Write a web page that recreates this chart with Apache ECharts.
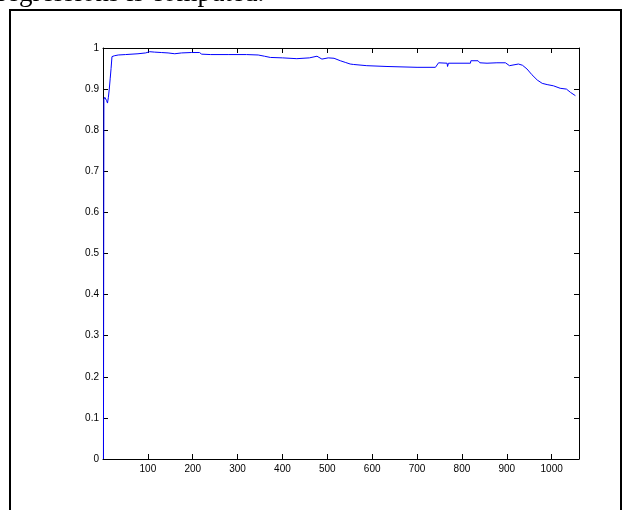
<!DOCTYPE html>
<html lang="en">
<head>
    <meta charset="UTF-8">
    <title>regression curve</title>
    <script src="https://cdn.jsdelivr.net/npm/echarts@6/dist/echarts.min.js"></script>
    <style>
        html, body { margin: 0; padding: 0; background: #fff; }
    </style>
</head>
<body>
<div id="chart" style="width: 626px; height: 510px"></div>
<script>
    // sample index and value
    var xs = [1, 2, 4, 6, 8, 10, 12, 14, 16, 18, 20, 25, 34, 50, 78, 95, 104, 115, 130, 145,
        160, 175, 197, 215, 220, 223, 240, 279, 320, 346, 360, 373, 400, 432, 460, 477, 488, 502,
        515, 529, 540, 551, 558, 588, 633, 700, 741, 748, 767, 768, 770, 774, 819, 820, 836, 838,
        840, 856, 878, 897, 906, 926, 935, 945, 956, 968, 979, 990, 1004, 1019, 1033, 1042, 1053];
    var ys = [0, 0.875, 0.88, 0.878, 0.872, 0.866, 0.88, 0.9, 0.925, 0.95, 0.979, 0.981, 0.983,
        0.984, 0.986, 0.988, 0.991, 0.99, 0.989, 0.988, 0.986, 0.988, 0.989, 0.989, 0.985, 0.984,
        0.984, 0.984, 0.984, 0.983, 0.98, 0.977, 0.976, 0.974, 0.976, 0.98, 0.973, 0.976, 0.975,
        0.969, 0.965, 0.961, 0.96, 0.957, 0.955, 0.953, 0.953, 0.964, 0.963, 0.955, 0.963, 0.963,
        0.963, 0.969, 0.969, 0.971, 0.964, 0.963, 0.964, 0.964, 0.957, 0.961, 0.958, 0.949, 0.935,
        0.922, 0.914, 0.911, 0.908, 0.902, 0.9, 0.892, 0.884];
    var xTicks = [100, 200, 300, 400, 500, 600, 700, 800, 900, 1000];
    var caption = 'regressions is computed.';

    var pts = xs.map(function (x, i) { return [x, ys[i]]; });
    var chart = echarts.init(document.getElementById('chart'));

    var labelFont = { fontFamily: 'Liberation Sans', fontSize: 10, color: '#000' };
    var axisBase = {
        type: 'value',
        axisLine: { show: true, onZero: false, lineStyle: { color: '#000', width: 1 } },
        axisTick: { show: true, inside: true, length: 5, lineStyle: { color: '#000' } },
        splitLine: { show: false }
    };

    var option = {
        animation: false,
        backgroundColor: '#fff',
        grid: { left: 103, right: 47, top: 48, bottom: 51 },
        xAxis: [
            Object.assign({}, axisBase, {
                position: 'bottom', min: 0, max: 1061, interval: 100,
                axisLabel: Object.assign({}, labelFont, {
                    margin: 5,
                    formatter: function (v) { return xTicks.indexOf(v) >= 0 ? String(v) : ''; }
                })
            }),
            Object.assign({}, axisBase, {
                position: 'top', min: 0, max: 1061, interval: 100,
                axisLabel: { show: false }
            })
        ],
        yAxis: [
            Object.assign({}, axisBase, {
                position: 'left', min: 0, max: 1, interval: 0.1,
                axisLabel: Object.assign({}, labelFont, {
                    margin: 4,
                    formatter: function (v) { return String(Math.round(v * 10) / 10); }
                })
            }),
            Object.assign({}, axisBase, {
                position: 'right', min: 0, max: 1, interval: 0.1,
                axisLabel: { show: false }
            })
        ],
        series: [{
            type: 'line',
            data: pts,
            showSymbol: false,
            smooth: false,
            lineStyle: { color: '#0000ff', width: 1 },
            z: 1
        }],
        graphic: [
            {
                type: 'text', left: -2, top: -20,
                style: { text: caption, font: '27px "Liberation Serif"', fill: '#000' }
            },
            { type: 'rect', shape: { x: 9, y: 9, width: 613, height: 2 }, style: { fill: '#000' } },
            { type: 'rect', shape: { x: 9, y: 9, width: 2, height: 501 }, style: { fill: '#000' } },
            { type: 'rect', shape: { x: 620, y: 9, width: 2, height: 501 }, style: { fill: '#000' } }
        ]
    };
    chart.setOption(option);
</script>
</body>
</html>
